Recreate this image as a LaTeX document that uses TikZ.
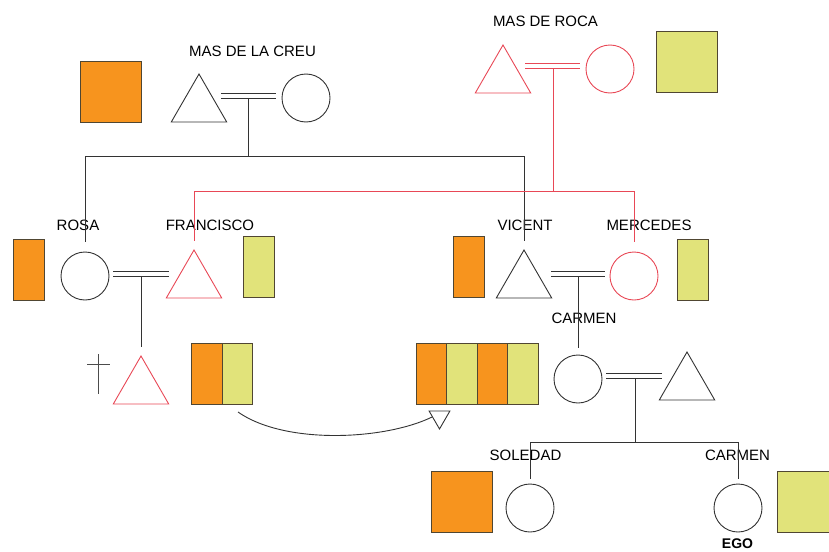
\documentclass[tikz,border=0pt]{standalone}
\usepackage{fontspec}
\setmainfont{Liberation Sans}
\usetikzlibrary{shapes.geometric}
\definecolor{famorange}{RGB}{247,148,30}
\definecolor{famyellow}{RGB}{225,227,122}
\definecolor{famred}{RGB}{232,72,86}
\definecolor{boxline}{RGB}{80,70,50}
\tikzset{
  man/.style={draw=black!80, regular polygon, regular polygon sides=3, minimum size=64pt, inner sep=0pt},
  woman/.style={draw=black!80, circle, minimum size=48pt, inner sep=0pt},
  lbl/.style={font=\fontsize{15}{18}\selectfont, inner sep=0pt},
  orng/.style={draw=boxline, fill=famorange, inner sep=0pt, minimum height=61pt},
  yell/.style={draw=boxline, fill=famyellow, inner sep=0pt, minimum height=61pt},
  sq/.style={minimum width=61pt},
  tall/.style={minimum width=31pt},
  strip/.style={minimum width=30.5pt},
  upper/.style={yshift=2.5pt},
  lower/.style={yshift=-2.5pt}
}
\begin{document}
\begin{tikzpicture}[x=1pt, y=-1pt, line width=0.9pt]
      \useasboundingbox (0,0) rectangle (829,551);
      % persons
      \path
        (199,106) node[man] (t1){}
        (306,98) node[woman] (c1){}
        (503,77) node[man, draw=famred] (t2){}
        (610,69) node[woman, draw=famred] (c2){}
        (85,276) node[woman] (c3){}
        (194,282) node[man, draw=famred] (t3){}
        (524,282) node[man] (t4){}
        (634,276) node[woman, draw=famred] (c4){}
        (141,388) node[man, draw=famred] (t5){}
        (578,379) node[woman] (c5){}
        (687,384) node[man] (t6){}
        (530,508) node[woman] (c6){}
        (738,508) node[woman] (c7){};
      % houses
      \path
        (111,91.5) node[orng, sq] (h1){}
        (686.5,62) node[yell, sq] (h2){}
        (29,269.5) node[orng, tall] (h3){}
        (258.5,266.5) node[yell, tall] (h4){}
        (469,266.5) node[orng, tall] (h5){}
        (693,269.5) node[yell, tall] (h6){}
        (206.75,373.5) node[orng, strip] (h7){}
        (237.25,373.5) node[yell, strip] (h8){}
        (431.25,373.5) node[orng, strip] (h9){}
        (461.75,373.5) node[yell, strip] (h10){}
        (492.25,373.5) node[orng, strip] (h11){}
        (522.75,373.5) node[yell, strip] (h12){}
        (461.5,501.5) node[orng, sq] (h13){}
        (807.5,501.5) node[yell, sq] (h14){}
        (439.5,417) node[draw=black!80, regular polygon, regular polygon sides=3, shape border rotate=180, minimum size=24pt, inner sep=0pt] (arr){};
      % names
      \path
        (252.5,51) node[lbl] (n1){MAS DE LA CREU}
        (545.5,21) node[lbl] (n2){MAS DE ROCA}
        (78,225) node[lbl] (n3){ROSA}
        (210,225) node[lbl] (n4){FRANCISCO}
        (525,225) node[lbl] (n5){VICENT}
        (649,225) node[lbl] (n6){MERCEDES}
        (584,318) node[lbl] (n7){CARMEN}
        (525.5,455) node[lbl] (n8){SOLEDAD}
        (737.5,455) node[lbl] (n9){CARMEN}
        (737.5,543.5) node[font=\fontsize{14}{16}\selectfont\bfseries, inner sep=0pt] (n10){EGO};
      % marriages and lines of descent
      \coordinate (m1a) at (221,95.5);  \coordinate (m1b) at (276,95.5);
      \coordinate (d1) at (248,98);     \coordinate (s1) at (248,156);
      \coordinate (m2a) at (525,66);    \coordinate (m2b) at (580,66);
      \coordinate (d2) at (553,68.5);   \coordinate (s2) at (553,191);
      \coordinate (m3a) at (113,274);   \coordinate (m3b) at (169,274);
      \coordinate (d3) at (141,276.5);
      \coordinate (m4a) at (551,274);   \coordinate (m4b) at (605,274);
      \coordinate (d4) at (578,276.5);
      \coordinate (m5a) at (606,375.5); \coordinate (m5b) at (662,375.5);
      \coordinate (d5) at (635,378);    \coordinate (s5) at (635,442);
      \coordinate (cs) at (238,412);
      \begin{scope}[black!80]
        \draw ([upper]m1a) to ([upper]m1b) ([lower]m1a) to ([lower]m1b);
        \draw (d1) to (s1);
        \draw[shorten >=10pt] (s1) -| (c3);
        \draw[shorten >=8pt] (s1) -| (t4);
        \draw ([upper]m3a) to ([upper]m3b) ([lower]m3a) to ([lower]m3b);
        \draw[shorten >=8pt] (d3) to (t5);
        \draw ([upper]m4a) to ([upper]m4b) ([lower]m4a) to ([lower]m4b);
        \draw[shorten >=7pt] (d4) to (c5);
        \draw ([upper]m5a) to ([upper]m5b) ([lower]m5a) to ([lower]m5b);
        \draw (d5) to (s5);
        \draw[shorten >=5pt] (s5) -| (c6);
        \draw[shorten >=5pt] (s5) -| (c7);
        \draw (cs) .. controls (285,445) and (385,440) .. (arr.west);
      \end{scope}
      \begin{scope}[famred]
        \draw ([upper]m2a) to ([upper]m2b) ([lower]m2a) to ([lower]m2b);
        \draw (d2) to (s2);
        \draw[shorten >=8pt] (s2) -| (t3);
        \draw[shorten >=10pt] (s2) -| (c4);
      \end{scope}
      % cross
      \draw[black!70] (98,354) -- (98,394) (87,364) -- (110,364);
    \end{tikzpicture}
\end{document}
